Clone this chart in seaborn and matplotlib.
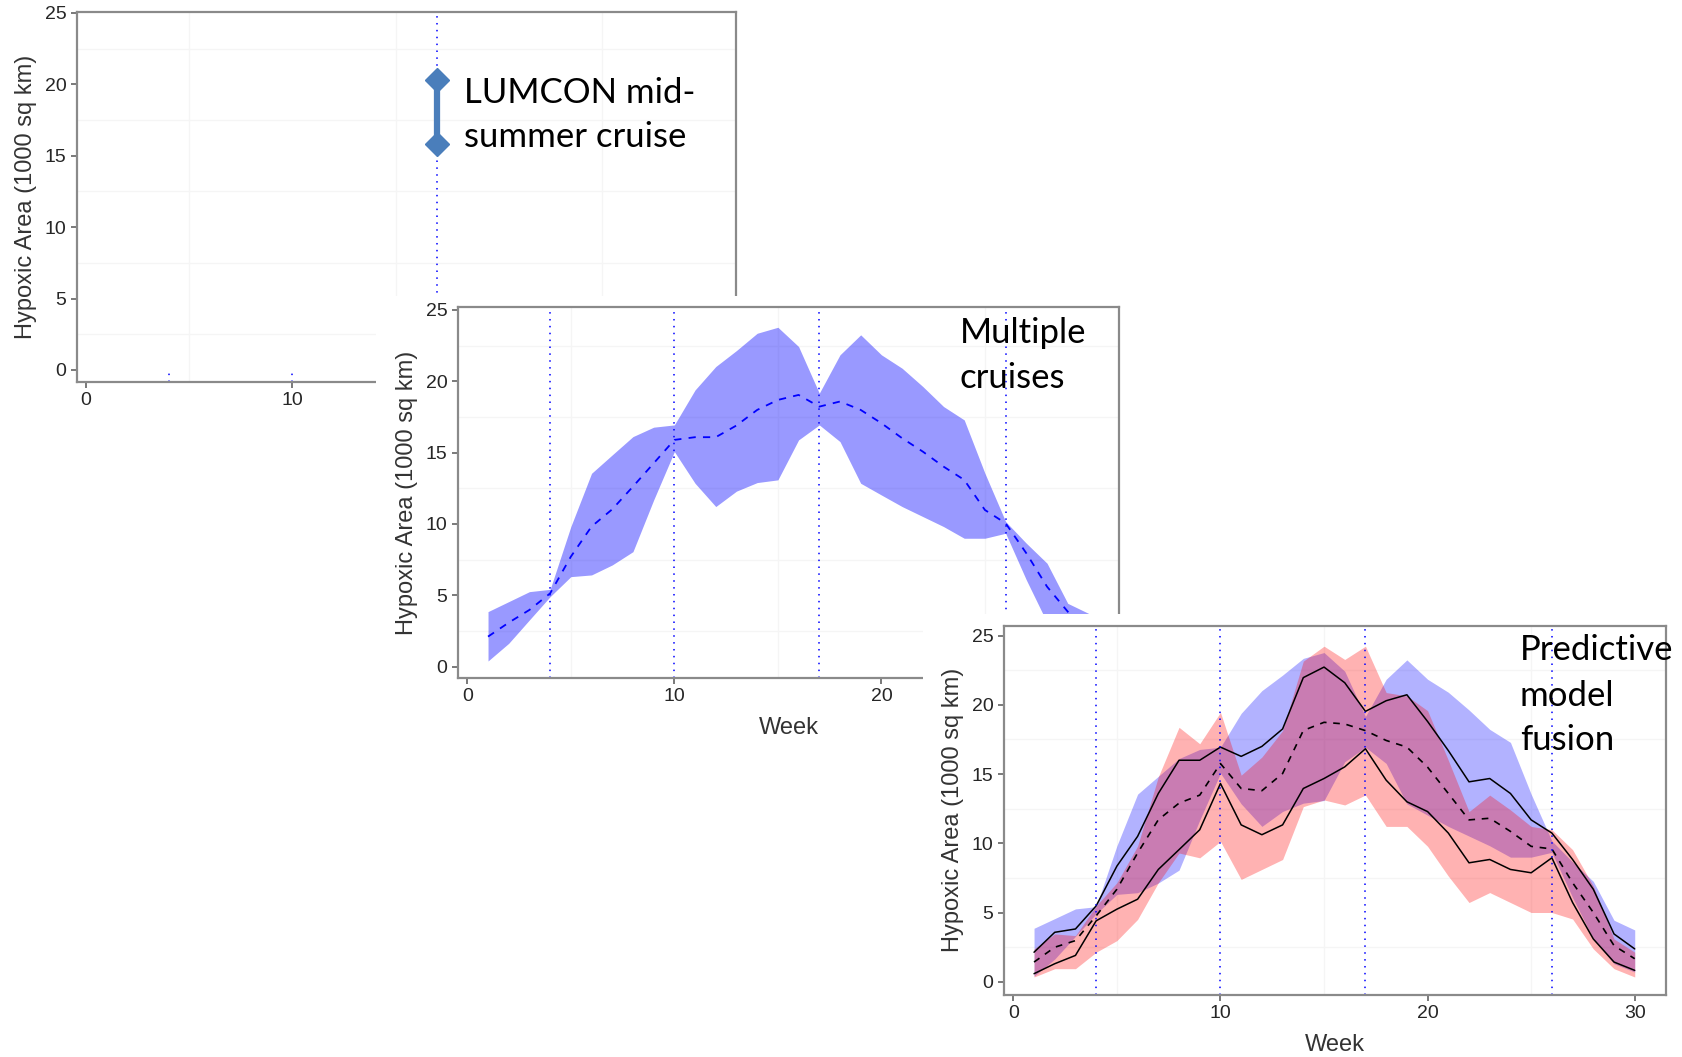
import numpy as np
import pandas as pd
import matplotlib
matplotlib.use("Agg")
import matplotlib.pyplot as plt
import seaborn as sns

sns.set_style("white")
plt.rcParams['font.family'] = ['Liberation Sans', 'DejaVu Sans']

# ---- data ----
weeks = [1, 2, 3, 4, 5, 6, 7, 8, 9, 10, 11, 12, 13, 14, 15,
         16, 17, 18, 19, 20, 21, 22, 23, 24, 25, 26, 27, 28, 29, 30]
cruise_weeks = [4, 10, 17, 26]

# LUMCON mid-summer cruise (panel 1)
lumcon_week = 17
lumcon_range = [15.8, 20.3]

# multiple cruises envelope (blue)
blue_low = [0.4, 1.64, 3.28, 4.91, 6.31, 6.43, 7.13, 8.06, 11.68, 15.07,
            12.85, 11.22, 12.3, 12.9, 13.09, 15.89, 16.94, 15.77, 12.85, 12.03,
            11.22, 10.52, 9.82, 9.0, 9.0, 9.35, 6.08, 3.1, 1.3, 0.7]
blue_high = [3.86, 4.56, 5.26, 5.42, 9.82, 13.55, 14.84, 16.12, 16.78, 16.94,
             19.39, 21.03, 22.15, 23.36, 23.78, 22.43, 19.16, 21.85, 23.25, 21.85,
             20.91, 19.63, 18.23, 17.29, 13.55, 10.17, 8.65, 7.25, 4.44, 3.74]
blue_mean = [2.11, 3.09, 3.98, 5.14, 7.71, 9.82, 11.03, 12.62, 14.25, 15.89,
             16.08, 16.08, 16.9, 17.99, 18.69, 19.04, 18.22, 18.58, 17.99, 17.06,
             16.01, 15.07, 14.02, 13.09, 10.98, 10.05, 7.95, 5.61, 3.86, 1.9]

# predictive model envelope (red)
red_low = [0.34, 0.94, 0.94, 2.13, 2.97, 4.5, 7.15, 9.3, 8.95, 10.14,
           7.39, 8.11, 8.83, 12.65, 13.13, 12.77, 13.49, 11.22, 11.22, 9.78,
           7.63, 5.72, 6.44, 5.72, 5.0, 5.0, 4.53, 2.37, 0.94, 0.34]
red_high = [2.37, 3.45, 3.33, 5.48, 7.15, 9.8, 14.8, 18.38, 17.19, 19.46,
            14.92, 16.23, 18.14, 23.16, 24.24, 23.28, 24.24, 20.89, 20.65, 19.58,
            16.0, 12.29, 13.48, 12.41, 11.22, 10.98, 9.54, 6.91, 3.09, 2.13]

# fusion result (black lines)
fusion_high = [2.13, 3.57, 3.81, 5.48, 8.35, 10.5, 13.6, 16.0, 16.0, 16.95,
               16.28, 17.0, 18.26, 21.97, 22.73, 21.6, 19.53, 20.3, 20.73, 18.8,
               16.7, 14.44, 14.68, 13.6, 11.69, 10.74, 8.83, 6.68, 3.45, 2.37]
fusion_mean = [1.42, 2.49, 2.97, 4.76, 6.68, 9.3, 11.7, 12.9, 13.48, 15.76,
               13.96, 13.8, 15.04, 18.15, 18.74, 18.62, 18.14, 17.43, 16.95, 15.5,
               13.6, 11.69, 11.81, 10.86, 9.78, 9.59, 7.15, 5.0, 2.61, 1.66]
fusion_low = [0.58, 1.3, 1.9, 4.4, 5.24, 5.96, 8.11, 9.54, 10.98, 14.32,
              11.33, 10.62, 11.33, 13.96, 14.68, 15.52, 16.83, 14.56, 13.0, 12.29,
              10.74, 8.59, 8.83, 8.11, 7.87, 8.95, 5.72, 3.09, 1.42, 0.82]

df = pd.DataFrame({"week": weeks, "blue_mean": blue_mean,
                   "fusion_high": fusion_high, "fusion_mean": fusion_mean,
                   "fusion_low": fusion_low})

W, H = 1683, 1057
fig = plt.figure(figsize=(W / 100, H / 100), dpi=100)


def frac(l, t, r, b):
    return [l / W, 1 - b / H, (r - l) / W, (b - t) / H]


def px(x, y):
    return x / W, 1 - y / H


def white_box(rect, z):
    bg = fig.add_axes(frac(*rect), zorder=z)
    bg.set_xticks([])
    bg.set_yticks([])
    for s in bg.spines.values():
        s.set_visible(False)
    bg.set_facecolor("white")
    return bg


def panel(rect, ylim, z, xlabel=True):
    ax = fig.add_axes(frac(*rect), zorder=z)
    ax.set_facecolor("white")
    ax.set_xlim(-0.45, 31.5)
    ax.set_ylim(*ylim)
    ax.set_xticks([0, 10, 20, 30])
    ax.set_yticks([0, 5, 10, 15, 20, 25])
    ax.set_xticks([5, 15, 25], minor=True)
    ax.set_yticks([2.5, 7.5, 12.5, 17.5, 22.5], minor=True)
    ax.grid(which="minor", color="#f5f5f5", lw=1.0)
    ax.grid(which="major", visible=False)
    ax.set_axisbelow(True)
    for s in ax.spines.values():
        s.set_visible(True)
        s.set_color("#8a8a8a")
        s.set_linewidth(1.6)
    ax.tick_params(which="major", direction="out", length=4.5, width=1.1,
                   color="#555555", labelsize=14, labelcolor="#262626", pad=3,
                   bottom=True, left=True)
    ax.tick_params(which="minor", length=0)
    w = rect[2] - rect[0]
    h = rect[3] - rect[1]
    ax.set_ylabel("Hypoxic Area (1000 sq km)", fontsize=17, color="#333333",
                  va="center")
    ax.yaxis.set_label_coords(-51 / w, 0.5)
    if xlabel:
        ax.set_xlabel("Week", fontsize=17, color="#333333", va="center")
        ax.xaxis.set_label_coords(0.5, -50 / h)
    return ax


def note(ax, x, y, s):
    ax.text(*px(x, y), s, transform=fig.transFigure, fontsize=25,
            family=["Lato", "DejaVu Sans"], color="black", va="center",
            ha="left", zorder=10)


dot = dict(color="#0000ff", lw=1.1, linestyle=(0, (1, 3.5)))

# ---- panel 1: single cruise (its x title is hidden under panel 2) ----
ax1 = panel((76.7, 11.7, 736, 381.7), (-0.82, 25.09), 1, xlabel=False)
ax1.axvline(cruise_weeks[2], **dot)
ax1.vlines(cruise_weeks[:2], -0.82, 0.0, **dot)
ax1.plot([lumcon_week, lumcon_week], lumcon_range, color="#4a7ebb", lw=4.5,
         marker="D", markersize=12, solid_capstyle="butt", zorder=3)
note(ax1, 463.7, 93.4, "LUMCON mid-")
note(ax1, 463.7, 137.4, "summer cruise")

# ---- panel 2: multiple cruises ----
white_box((375.6, 296, 1135, 760), 2)
ax2 = panel((458, 307, 1119.5, 678), (-0.79, 25.2), 3)
ax2.fill_between(weeks, blue_low, blue_high, color="blue", alpha=0.4, lw=0)
sns.lineplot(data=df, x="week", y="blue_mean", ax=ax2, color="blue", lw=1.3,
             linestyle=(0, (4, 4)))
for wk in cruise_weeks:
    ax2.axvline(wk, **dot)
ax2.set_xlabel("Week", fontsize=17, color="#333333", va="center")
ax2.set_ylabel("Hypoxic Area (1000 sq km)", fontsize=17, color="#333333", va="center")
note(ax2, 959.5, 332.7, "Multiple")
note(ax2, 959.5, 377.8, "cruises")

# ---- panel 3: predictive model fusion ----
white_box((923, 614, 1683, 1057), 4)
ax3 = panel((1004, 625.7, 1665.8, 995), (-0.96, 25.72), 5)
ax3.fill_between(weeks, blue_low, blue_high, color="blue", alpha=0.3, lw=0)
ax3.fill_between(weeks, red_low, red_high, color="red", alpha=0.3, lw=0)
sns.lineplot(data=df, x="week", y="fusion_high", ax=ax3, color="black", lw=1.1)
sns.lineplot(data=df, x="week", y="fusion_low", ax=ax3, color="black", lw=1.1)
sns.lineplot(data=df, x="week", y="fusion_mean", ax=ax3, color="black", lw=1.2,
             linestyle=(0, (4, 4)))
for wk in cruise_weeks:
    ax3.axvline(wk, **dot)
ax3.set_xlabel("Week", fontsize=17, color="#333333", va="center")
ax3.set_ylabel("Hypoxic Area (1000 sq km)", fontsize=17, color="#333333", va="center")
note(ax3, 1519.8, 650.4, "Predictive")
note(ax3, 1519.8, 695.5, "model")
note(ax3, 1519.8, 739.5, "fusion")

fig.savefig("out.png", dpi=100, facecolor="white")
